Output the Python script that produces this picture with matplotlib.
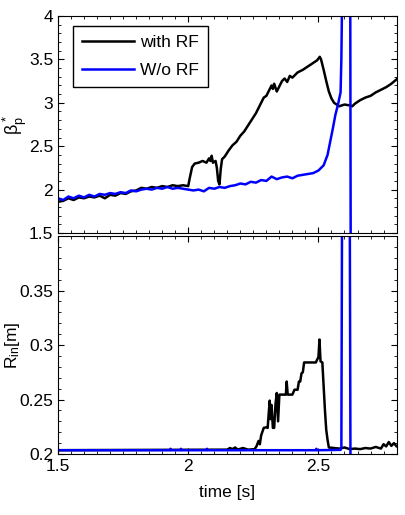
import numpy as np
import matplotlib
matplotlib.use("Agg")
import matplotlib.pyplot as plt
from matplotlib.ticker import MultipleLocator

plt.rcParams['font.family'] = ['Liberation Sans', 'DejaVu Sans']
plt.rcParams['mathtext.fontset'] = 'custom'
plt.rcParams['mathtext.rm'] = 'Liberation Sans'
plt.rcParams['mathtext.it'] = 'Liberation Sans'

# beta_p* with RF
t_rf = [1.50, 1.52, 1.54, 1.56, 1.58, 1.60, 1.62, 1.64, 1.66, 1.68, 1.70, 1.72, 1.74, 1.76,
        1.78, 1.80, 1.82, 1.84, 1.86, 1.88, 1.90, 1.92, 1.94, 1.96, 1.98, 2.00, 2.005, 2.015,
        2.025, 2.04, 2.055, 2.07, 2.08, 2.085, 2.09, 2.095, 2.105, 2.11, 2.115, 2.12, 2.125,
        2.13, 2.14, 2.155, 2.17, 2.185, 2.20, 2.215, 2.23, 2.245, 2.26, 2.275, 2.29, 2.30,
        2.31, 2.32, 2.325, 2.33, 2.34, 2.35, 2.36, 2.37, 2.38, 2.39, 2.40, 2.42, 2.44, 2.46,
        2.48, 2.495, 2.505, 2.51, 2.52, 2.53, 2.54, 2.55, 2.56, 2.57, 2.58, 2.60, 2.62, 2.63,
        2.64, 2.66, 2.68, 2.70, 2.72, 2.74, 2.76, 2.78, 2.80, 2.81]
beta_rf = [1.86, 1.87, 1.90, 1.88, 1.91, 1.90, 1.92, 1.91, 1.93, 1.90, 1.94, 1.93, 1.96, 1.95,
           1.98, 1.99, 2.02, 2.01, 2.03, 2.02, 2.04, 2.03, 2.05, 2.04, 2.05, 2.04, 2.12, 2.26,
           2.30, 2.31, 2.33, 2.31, 2.36, 2.33, 2.39, 2.31, 2.33, 2.25, 2.10, 2.06, 2.24,
           2.35, 2.38, 2.45, 2.51, 2.55, 2.62, 2.67, 2.74, 2.81, 2.88, 2.97, 3.06, 3.08,
           3.14, 3.20, 3.16, 3.22, 3.13, 3.19, 3.25, 3.28, 3.24, 3.31, 3.29, 3.35, 3.38, 3.42,
           3.46, 3.49, 3.53, 3.50, 3.38, 3.25, 3.13, 3.05, 3.00, 2.98, 2.96, 2.98, 2.97, 2.96,
           2.99, 3.03, 3.06, 3.08, 3.12, 3.15, 3.18, 3.22, 3.27, 3.30]

# beta_p* without RF
t_no = [1.50, 1.52, 1.54, 1.56, 1.58, 1.60, 1.62, 1.64, 1.66, 1.68, 1.70, 1.72, 1.74, 1.76,
        1.78, 1.80, 1.82, 1.84, 1.86, 1.88, 1.90, 1.92, 1.94, 1.96, 1.98, 2.00, 2.02, 2.04,
        2.06, 2.08, 2.10, 2.12, 2.14, 2.16, 2.18, 2.20, 2.22, 2.24, 2.26, 2.28, 2.30, 2.32,
        2.34, 2.36, 2.38, 2.40, 2.42, 2.44, 2.46, 2.48, 2.50, 2.52, 2.535, 2.545, 2.555,
        2.565, 2.575, 2.585, 2.588, 2.592, 2.622, 2.624]
beta_no = [1.90, 1.88, 1.92, 1.90, 1.93, 1.91, 1.94, 1.92, 1.95, 1.94, 1.96, 1.95, 1.97, 1.96,
           1.99, 1.98, 2.00, 2.01, 2.00, 2.02, 2.01, 2.03, 2.01, 2.02, 2.01, 2.00, 1.99, 2.00,
           1.98, 2.02, 2.01, 2.03, 2.02, 2.04, 2.05, 2.07, 2.06, 2.09, 2.08, 2.11, 2.10, 2.15,
           2.12, 2.14, 2.15, 2.13, 2.16, 2.17, 2.18, 2.19, 2.22, 2.28, 2.40, 2.55, 2.70,
           2.86, 2.98, 3.12, 3.50, 4.50, 4.50, 1.00]

# R_in with RF
tr_rf = [1.50, 2.15, 2.16, 2.17, 2.18, 2.19, 2.21, 2.23, 2.255, 2.262, 2.27, 2.275, 2.28, 2.29,
         2.30, 2.305, 2.31, 2.313, 2.316, 2.32, 2.325, 2.33, 2.335, 2.34, 2.345, 2.35, 2.36,
         2.375, 2.378, 2.382, 2.40, 2.408, 2.42, 2.425, 2.43, 2.435, 2.44, 2.445, 2.49, 2.50,
         2.504, 2.508, 2.515, 2.52, 2.525, 2.53, 2.535, 2.54, 2.56, 2.58, 2.60, 2.62, 2.64,
         2.66, 2.68, 2.70, 2.72, 2.74, 2.75, 2.76, 2.77, 2.78, 2.79, 2.80, 2.81]
rin_rf = [0.2035, 0.204, 0.2055, 0.2045, 0.206, 0.204, 0.2055, 0.204, 0.2045, 0.207, 0.212,
          0.209, 0.217, 0.224, 0.2245, 0.224, 0.240, 0.249, 0.232, 0.245, 0.224, 0.224, 0.2455,
          0.256, 0.230, 0.2545, 0.2545, 0.2545, 0.2665, 0.2545, 0.2545, 0.259, 0.259, 0.2665,
          0.2665, 0.274, 0.275, 0.284, 0.284, 0.289, 0.305, 0.285, 0.284, 0.262, 0.240, 0.222,
          0.213, 0.206, 0.2055, 0.205, 0.206, 0.2045, 0.205, 0.2045, 0.2055, 0.205, 0.2065,
          0.205, 0.209, 0.207, 0.211, 0.2075, 0.210, 0.207, 0.2065]

# R_in without RF
tr_no = [1.50, 1.93, 1.932, 1.934, 1.97, 1.972, 1.974, 2.07, 2.072, 2.074, 2.49, 2.492, 2.494,
         2.585, 2.588, 2.591, 2.620, 2.623]
rin_no = [0.2035, 0.2035, 0.2048, 0.2035, 0.2035, 0.2048, 0.2035, 0.2035, 0.2048, 0.2035,
          0.2035, 0.2048, 0.2035, 0.2038, 0.206, 0.45, 0.45, 0.19]

fig = plt.figure(figsize=(4.05, 5.15), dpi=100)
ax1 = fig.add_axes([0.1432, 0.5476, 0.836, 0.4213])
ax2 = fig.add_axes([0.1432, 0.1184, 0.836, 0.4233])

ax1.plot(t_rf, beta_rf, color='black', lw=1.8, label='with RF')
ax1.plot(t_no, beta_no, color='#0000ff', lw=1.8, label='W/o RF')
ax2.plot(tr_rf, rin_rf, color='black', lw=1.8)
ax2.plot(tr_no, rin_no, color='#0000ff', lw=1.8)

ax1.set_xlim(1.5, 2.8)
ax1.set_ylim(1.5, 4)
ax2.set_xlim(1.5, 2.8)
ax2.set_ylim(0.2, 0.4)

ax1.set_yticks([1.5, 2, 2.5, 3, 3.5, 4])
ax1.set_yticklabels(['1.5', '2', '2.5', '3', '3.5', '4'])
ax2.set_yticks([0.2, 0.25, 0.3, 0.35])
ax2.set_yticklabels(['0.2', '0.25', '0.3', '0.35'])
for ax in (ax1, ax2):
    ax.set_xticks([1.5, 2, 2.5])
    ax.xaxis.set_minor_locator(MultipleLocator(0.05))
    ax.tick_params(which='both', direction='in', top=True, right=True, labelsize=12.5)
    ax.tick_params(which='major', length=4)
    ax.tick_params(which='minor', length=2)
ax2.set_xticklabels(['1.5', '2', '2.5'])
ax1.tick_params(labelbottom=False)
ax1.yaxis.set_minor_locator(MultipleLocator(0.1))
ax2.yaxis.set_minor_locator(MultipleLocator(0.01))

ax1.set_ylabel(r'$\beta^*_{\rm p}$', fontsize=13, labelpad=0)
ax2.set_ylabel(r'R$_{\rm in}$[m]', fontsize=12.5, labelpad=-2)
ax2.set_xlabel('time [s]', fontsize=12.5, labelpad=8)

leg = ax1.legend(loc='upper left', bbox_to_anchor=(0.035, 0.97), fontsize=12.5,
                 handlelength=3.0, handletextpad=0.35, labelspacing=0.75, borderpad=0.5,
                 fancybox=False, framealpha=1, borderaxespad=0.2)
leg.get_frame().set_edgecolor('black')
leg.get_frame().set_linewidth(1.0)

fig.savefig('out.png', dpi=100)
